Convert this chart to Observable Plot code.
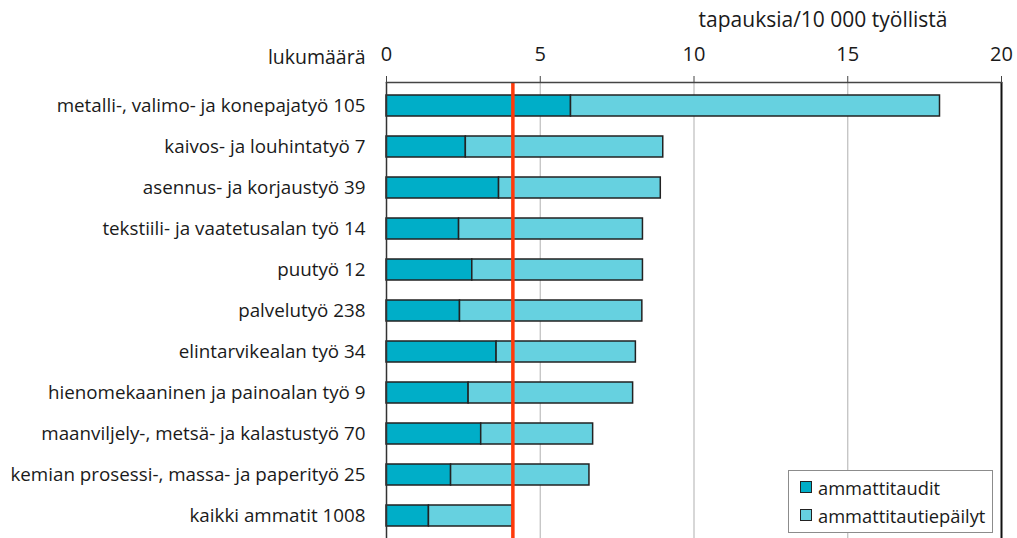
<!DOCTYPE html>
<html>
<head>
<meta charset="utf-8">
<script src="https://cdn.jsdelivr.net/npm/d3@7"></script>
<script src="https://cdn.jsdelivr.net/npm/@observablehq/plot@0.6"></script>
<style>
  html, body { margin: 0; padding: 0; background: #fff; }
  #wrap { position: relative; width: 1017px; height: 538px; overflow: hidden; font-family: "Open Sans", sans-serif; }
  #legend { position: absolute; left: 788px; top: 470px; width: 205px; height: 63px; background: #fff; border: 1px solid #8c8c8c; box-sizing: border-box; font-size: 18.3px; color: #1a1a1a; padding: 2px 0 0 11px; }
  .item { display: flex; align-items: center; height: 28px; }
  .sw { width: 12px; height: 12px; border: 1.5px solid #222; margin-right: 6px; box-sizing: border-box; }
</style>
</head>
<body>
<div id="wrap"></div>
<script>
const categories = [
  "metalli-, valimo- ja konepajatyö",
  "kaivos- ja louhintatyö",
  "asennus- ja korjaustyö",
  "tekstiili- ja vaatetusalan työ",
  "puutyö",
  "palvelutyö",
  "elintarvikealan työ",
  "hienomekaaninen ja painoalan työ",
  "maanviljely-, metsä- ja kalastustyö",
  "kemian prosessi-, massa- ja paperityö",
  "kaikki ammatit"
];
const counts = [105, 7, 39, 14, 12, 238, 34, 9, 70, 25, 1008];
const diseases = [6.0, 2.58, 3.66, 2.36, 2.79, 2.39, 3.58, 2.67, 3.08, 2.10, 1.38];
const suspected = [12.0, 6.42, 5.26, 5.98, 5.55, 5.93, 4.53, 5.35, 3.64, 4.50, 2.73];
const seriesNames = ["ammattitaudit", "ammattitautiepäilyt"];
const seriesColors = ["#00aec8", "#66d1e0"];
const xTicks = [0, 5, 10, 15, 20];
const xTitle = "tapauksia/10 000 työllistä";
const yTitle = "lukumäärä";

const labels = categories.map((c, i) => `${c} ${counts[i]}`);
const rows = [];
labels.forEach((l, i) => {
  rows.push({label: l, series: seriesNames[0], value: diseases[i]});
  rows.push({label: l, series: seriesNames[1], value: suspected[i]});
});
const allRate = diseases[diseases.length - 1] + suspected[suspected.length - 1];

const plot = Plot.plot({
  width: 1017,
  height: 538,
  marginLeft: 386,
  marginRight: 16,
  marginTop: 82,
  marginBottom: 0,
  style: {fontFamily: "Open Sans, sans-serif", color: "#1a1a1a", background: "#fff"},
  x: {domain: [0, 20], axis: null},
  y: {domain: labels, range: [82, 538.5], paddingInner: 0.49, paddingOuter: 0.245, axis: null},
  color: {domain: seriesNames, range: seriesColors},
  marks: [
    Plot.gridX(xTicks.slice(1, -1), {stroke: "#bdbdbd", strokeOpacity: 1, strokeWidth: 1.2}),
    Plot.barX(rows, {y: "label", x: "value", fill: "series", stroke: "#222", strokeWidth: 1.5, order: seriesNames}),
    Plot.ruleX([allRate], {stroke: "#ff3a0a", strokeWidth: 3.5}),
    Plot.ruleX([0], {stroke: "#333", strokeWidth: 1.5}),
    Plot.ruleX([20], {stroke: "#111", strokeWidth: 2}),
    Plot.frame({anchor: "top", stroke: "#444", strokeWidth: 1.5}),
    Plot.axisX(xTicks, {anchor: "top", tickSize: 7, tickPadding: 15, fontSize: 20, label: null, stroke: "#444"}),
    Plot.axisY({anchor: "left", tickSize: 0, tickPadding: 21, fontSize: 18.8, label: null}),
    Plot.text([xTitle], {frameAnchor: "top-right", textAnchor: "end", dx: -54, dy: -62, fontSize: 21, lineAnchor: "middle"}),
    Plot.text([yTitle], {frameAnchor: "top-left", textAnchor: "end", dx: -21, dy: -32, fontSize: 19.5})
  ]
});
const wrap = document.getElementById("wrap");
wrap.appendChild(plot);

const legend = document.createElement("div");
legend.id = "legend";
seriesNames.forEach((n, i) => {
  const it = document.createElement("div");
  it.className = "item";
  const sw = document.createElement("span");
  sw.className = "sw";
  sw.style.background = seriesColors[i];
  const t = document.createElement("span");
  t.textContent = n;
  it.appendChild(sw); it.appendChild(t);
  legend.appendChild(it);
});
wrap.appendChild(legend);
</script>
</body>
</html>
